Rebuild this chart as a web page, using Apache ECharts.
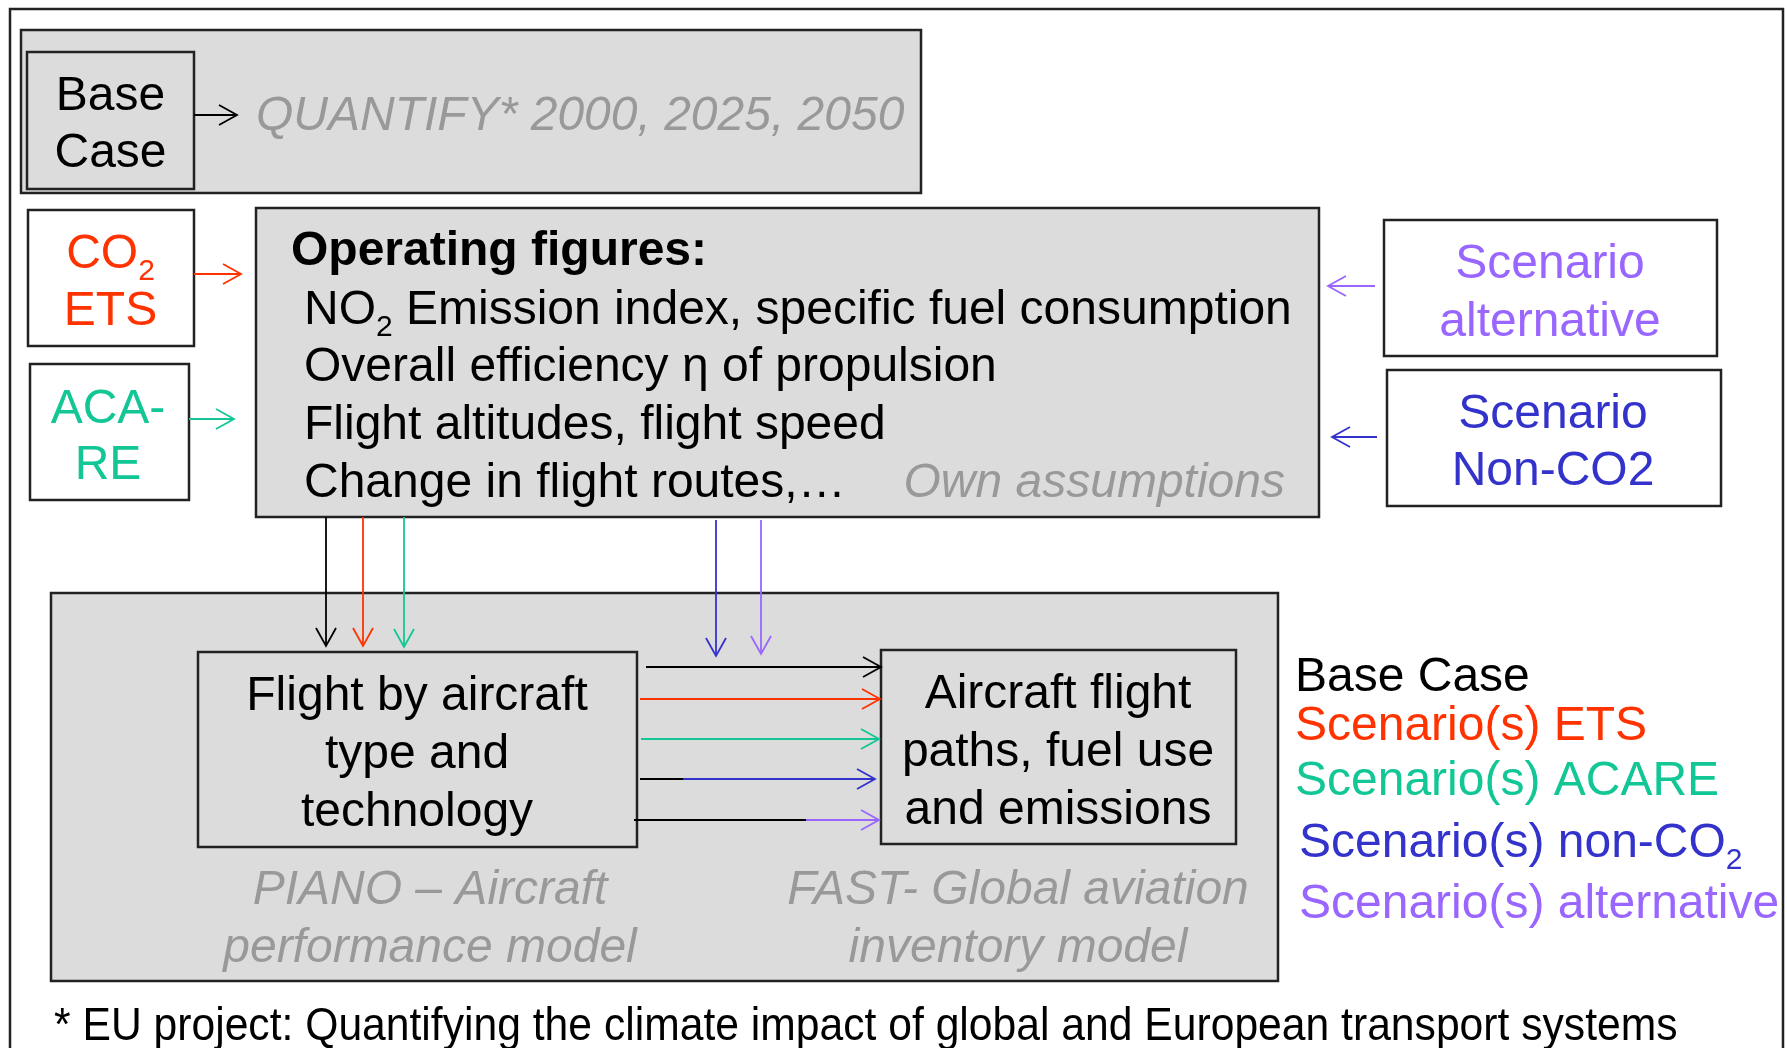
<!DOCTYPE html>
<html>
<head>
<meta charset="utf-8">
<title>Operating figures workflow</title>
<script src="https://cdn.jsdelivr.net/npm/echarts@6/dist/echarts.min.js"></script>
<style>
  html, body { margin: 0; padding: 0; background: #fff; }
  #chart { width: 1787px; height: 1048px; }
</style>
</head>
<body>
<div id="chart"></div>
<script>
// ---- texts of the diagram ----
const baseCaseLines = ['Base', 'Case'];
const baseCaseNote = 'QUANTIFY* 2000, 2025, 2050';
const operatingTitle = 'Operating figures:';
const operatingItems = [
  '{t|NO}{sub|2}{t| Emission index, specific fuel consumption}',
  'Overall efficiency η of propulsion',
  'Flight altitudes, flight speed',
  'Change in flight routes,…'
];
const operatingNote = 'Own assumptions';
const etsLines = ['{t|CO}{sub|2}', 'ETS'];
const acareLines = ['ACA-', 'RE'];
const altLines = ['Scenario', 'alternative'];
const nonCo2Lines = ['Scenario', 'Non-CO2'];
const flightBoxLines = ['Flight by aircraft', 'type and', 'technology'];
const pathBoxLines = ['Aircraft flight', 'paths, fuel use', 'and emissions'];
const pianoNote = ['PIANO – Aircraft', 'performance model'];
const fastNote = ['FAST- Global aviation', 'inventory model'];
const legendItems = ['Base Case', 'Scenario(s) ETS', 'Scenario(s) ACARE', '{t|Scenario(s) non-CO}{sub|2}', 'Scenario(s) alternative'];
const footnote = '* EU project: Quantifying the climate impact of global and European transport systems';

// ---- styles ----
const FONT = '"Liberation Sans", Arial, Helvetica, sans-serif';
const GRAY_FILL = '#dcdcdc';
const NOTE = '#999999';
const C = { base: '#000000', ets: '#ff3300', acare: '#12c795', nonco2: '#3333cc', alt: '#9966ff' };
const TEXT_DY = 4; // canvas "middle" sits a bit high, push text down

const els = [];

function richFor(color, size) {
  return {
    t: { fontFamily: FONT, fontSize: size, fill: color },
    sub: { fontFamily: FONT, fontSize: 30, fill: color, padding: [34, 0, 0, 0] }
  };
}

function label(x, y, text, o) {
  o = o || {};
  const size = o.size || 48;
  const color = o.color || '#000';
  const style = {
    text: text,
    fontFamily: FONT,
    fontSize: size,
    fontStyle: o.italic ? 'italic' : 'normal',
    fontWeight: o.bold ? 'bold' : 'normal',
    fill: color,
    align: o.align || 'center',
    verticalAlign: 'middle'
  };
  if (text.indexOf('{sub|') >= 0) style.rich = richFor(color, size);
  els.push({ type: 'text', x: x, y: y + TEXT_DY, scaleX: o.scaleX || 1, z: 10, style: style });
}

function lines(x, ys, arr, o) {
  arr.forEach(function (t, i) { label(x, ys[i], t, o); });
}

function box(x1, y1, x2, y2, fill) {
  els.push({
    type: 'rect', z: 1,
    shape: { x: x1, y: y1, width: x2 - x1, height: y2 - y1 },
    style: { fill: fill, stroke: '#222222', lineWidth: 2.5 }
  });
}

function seg(x1, y1, x2, y2, color) {
  els.push({ type: 'line', z: 5, shape: { x1: x1, y1: y1, x2: x2, y2: y2 }, style: { stroke: color, lineWidth: 1.8 } });
}

function arrow(x1, y1, x2, y2, color) {
  seg(x1, y1, x2, y2, color);
  const dx = x2 - x1, dy = y2 - y1, len = Math.hypot(dx, dy);
  const ux = dx / len, uy = dy / len, L = 18, W = 10;
  const bx = x2 - ux * L, by = y2 - uy * L;
  els.push({
    type: 'polyline', z: 5,
    shape: { points: [[bx - uy * W, by + ux * W], [x2, y2], [bx + uy * W, by - ux * W]] },
    style: { stroke: color, fill: 'none', lineWidth: 1.8 }
  });
}

// outer frame (open at the bottom)
els.push({
  type: 'polyline', z: 0,
  shape: { points: [[10, 1060], [10, 9], [1783, 9], [1783, 1060]] },
  style: { stroke: '#222222', fill: 'none', lineWidth: 2.5 }
});

// base case strip
box(21, 30, 921, 193, GRAY_FILL);
box(27, 52, 194, 189, GRAY_FILL);
lines(110.5, [93, 150], baseCaseLines);
arrow(194, 115, 237, 115, C.base);
label(256, 113, baseCaseNote, { italic: true, color: NOTE, align: 'left' });

// operating figures
box(256, 208, 1319, 517, GRAY_FILL);
label(291, 248, operatingTitle, { bold: true, align: 'left' });
lines(304, [307, 364, 422, 480], operatingItems, { align: 'left' });
label(1285, 480, operatingNote, { italic: true, color: NOTE, align: 'right' });

// left inputs
box(28, 210, 194, 346, '#ffffff');
lines(110.5, [251, 308], etsLines, { color: C.ets });
arrow(194, 274, 241, 274, C.ets);
box(30, 364, 189, 500, '#ffffff');
lines(108, [406, 462], acareLines, { color: C.acare });
arrow(189, 419, 234, 419, C.acare);

// right inputs
box(1384, 220, 1717, 356, '#ffffff');
lines(1550, [261, 319], altLines, { color: C.alt });
arrow(1375, 286, 1328, 286, C.alt);
box(1387, 370, 1721, 506, '#ffffff');
lines(1553, [411, 468], nonCo2Lines, { color: C.nonco2 });
arrow(1377, 437, 1332, 437, C.nonco2);

// model chain
box(51, 593, 1278, 981, GRAY_FILL);
box(198, 652, 637, 847, GRAY_FILL);
lines(417, [693, 751, 809], flightBoxLines);
box(881, 650, 1236, 844, GRAY_FILL);
lines(1058, [691, 749, 807], pathBoxLines);
lines(430, [887, 945], pianoNote, { italic: true, color: NOTE });
lines(1018, [887, 945], fastNote, { italic: true, color: NOTE });

// flows into the first model
arrow(326, 517, 326, 646, C.base);
arrow(363, 517, 363, 646, C.ets);
arrow(404, 517, 404, 647, C.acare);
arrow(716, 520, 716, 656, C.nonco2);
arrow(761, 520, 761, 654, C.alt);

// flows between the models
arrow(646, 667, 881, 667, C.base);
arrow(640, 699, 880, 699, C.ets);
arrow(641, 739, 879, 739, C.acare);
seg(640, 779, 683, 779, C.base);
arrow(683, 779, 875, 779, C.nonco2);
seg(634, 820, 806, 820, C.base);
arrow(806, 820, 879, 820, C.alt);

// legend
const legendColors = [C.base, C.ets, C.acare, C.nonco2, C.alt];
const legendX = [1295, 1295, 1295, 1299, 1299];
const legendY = [674, 723, 778, 840, 901];
legendItems.forEach(function (t, i) {
  label(legendX[i], legendY[i], t, { color: legendColors[i], align: 'left' });
});

// footnote
label(54, 1023, footnote, { align: 'left', size: 46, scaleX: 0.927 });

const chart = echarts.init(document.getElementById('chart'));
chart.setOption({ animation: false, graphic: { elements: els } });
</script>
</body>
</html>
